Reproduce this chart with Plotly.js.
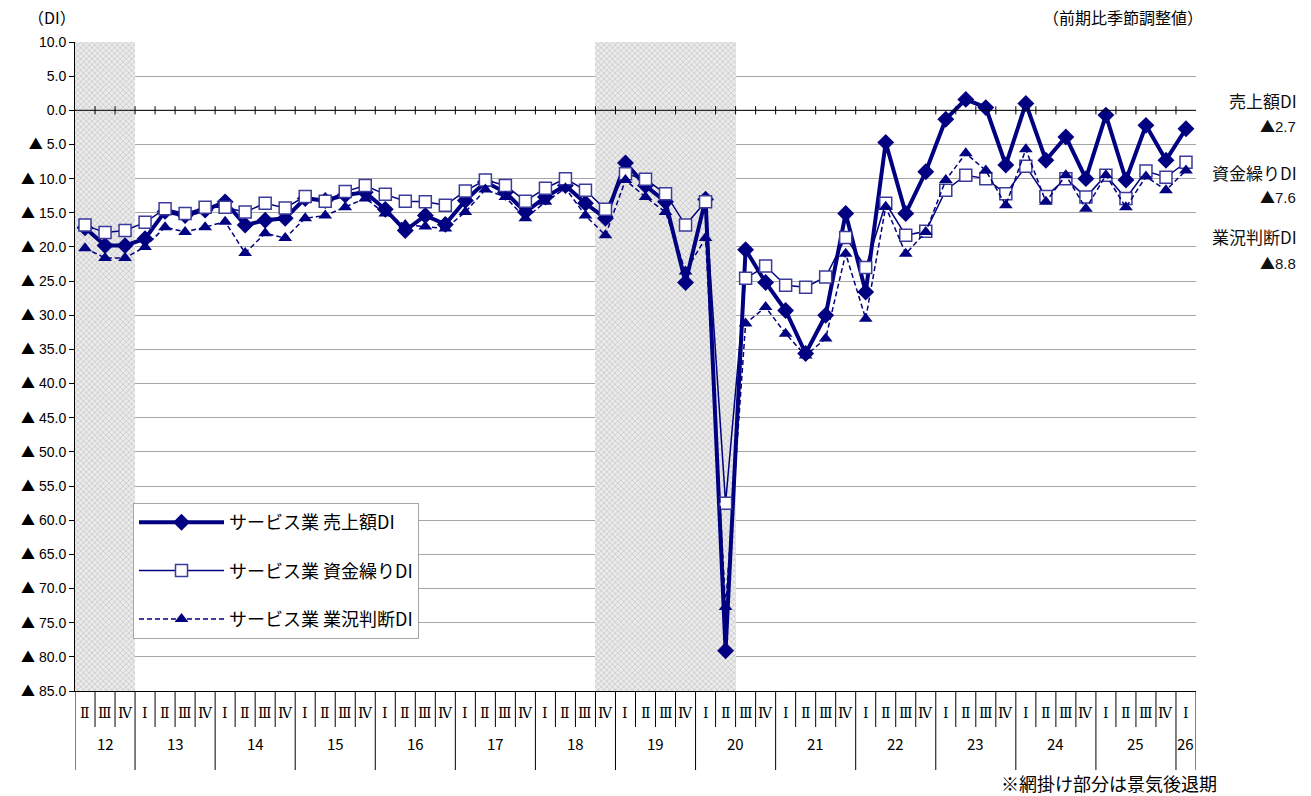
<!DOCTYPE html>
<html>
<head>
<meta charset="utf-8">
<script src="https://cdn.plot.ly/plotly-3.0.1.min.js"></script>
<style>html,body{margin:0;padding:0;background:#fff;}#chart{width:1311px;height:796px;}</style>
</head>
<body>
<div id="chart"></div>
<script>
// ---- data ----
const yearOfPoint = ['12','12','12',
  '13','13','13','13','14','14','14','14','15','15','15','15','16','16','16','16',
  '17','17','17','17','18','18','18','18','19','19','19','19','20','20','20','20',
  '21','21','21','21','22','22','22','22','23','23','23','23','24','24','24','24',
  '25','25','25','25','26'];
const quarterOfPoint = ['Ⅱ','Ⅲ','Ⅳ',
  'Ⅰ','Ⅱ','Ⅲ','Ⅳ','Ⅰ','Ⅱ','Ⅲ','Ⅳ','Ⅰ','Ⅱ','Ⅲ','Ⅳ','Ⅰ','Ⅱ','Ⅲ','Ⅳ',
  'Ⅰ','Ⅱ','Ⅲ','Ⅳ','Ⅰ','Ⅱ','Ⅲ','Ⅳ','Ⅰ','Ⅱ','Ⅲ','Ⅳ','Ⅰ','Ⅱ','Ⅲ','Ⅳ',
  'Ⅰ','Ⅱ','Ⅲ','Ⅳ','Ⅰ','Ⅱ','Ⅲ','Ⅳ','Ⅰ','Ⅱ','Ⅲ','Ⅳ','Ⅰ','Ⅱ','Ⅲ','Ⅳ',
  'Ⅰ','Ⅱ','Ⅲ','Ⅳ','Ⅰ'];

const salesDI = [-17.2,-19.8,-19.8,-18.8,-14.8,-15.4,-14.6,-13.4,-16.8,-16.1,
  -15.8,-12.9,-13.2,-12.4,-12.0,-14.5,-17.6,-15.4,-16.7,-13.2,
  -10.5,-12.0,-14.9,-12.7,-11.0,-13.6,-15.8,-7.7,-11.0,-13.4,
  -25.2,-13.0,-79.1,-20.4,-25.2,-29.3,-35.6,-30.0,-15.1,-26.6,
  -4.7,-15.1,-9.0,-1.3,1.6,0.4,-8.0,1.0,-7.3,-3.9,
  -10.0,-0.7,-10.2,-2.2,-7.3,-2.7];
const cashDI = [-16.8,-17.9,-17.6,-16.4,-14.4,-15.1,-14.2,-14.2,-14.9,-13.6,
  -14.3,-12.6,-13.3,-11.9,-11.0,-12.3,-13.3,-13.4,-13.9,-11.8,
  -10.2,-11.0,-13.3,-11.4,-10.0,-11.7,-14.5,-9.3,-10.1,-12.2,
  -16.8,-13.4,-57.5,-24.6,-22.8,-25.6,-25.9,-24.4,-18.6,-23.0,
  -13.6,-18.3,-17.7,-11.7,-9.5,-10.0,-12.2,-8.2,-12.6,-10.0,
  -12.7,-9.5,-12.9,-8.9,-9.8,-7.6];
const businessDI = [-20.2,-21.6,-21.6,-20.0,-17.1,-17.8,-17.1,-16.3,-20.9,-18.0,
  -18.7,-15.8,-15.4,-14.2,-12.9,-15.1,-16.8,-17.0,-17.3,-14.9,
  -11.6,-12.7,-15.8,-13.4,-11.4,-15.4,-18.3,-10.2,-12.7,-14.9,
  -23.6,-18.7,-72.7,-31.2,-28.8,-32.7,-35.9,-33.4,-21.0,-30.5,
  -14.1,-21.0,-17.8,-10.2,-6.3,-8.8,-13.9,-5.7,-13.4,-9.5,
  -14.4,-9.5,-14.2,-9.7,-11.7,-8.8];

// recession periods (first / last point index, inclusive)
const recessionStart = [0, 26];
const recessionEnd = [2, 32];

const seriesNames = ['サービス業 売上額DI','サービス業 資金繰りDI','サービス業 業況判断DI'];
const latestNames = ['売上額DI','資金繰りDI','業況判断DI'];

const yTickVals = [10,5,0,-5,-10,-15,-20,-25,-30,-35,-40,-45,-50,-55,-60,-65,-70,-75,-80,-85];
const TRI = '<span style="font-family:Noto Sans CJK JP">▲</span>';
const fmt = v => v < 0 ? TRI + ' ' + Math.abs(v).toFixed(1) : v.toFixed(1);
const yTickText = yTickVals.map(fmt);

// ---- geometry helpers ----
const W = 1311, H = 796, ML = 75, MR = 115, MT = 42, MB = 105;
const PW = W - ML - MR, PH = H - MT - MB;
const px2x = p => (p - ML) / PW;
const px2y = p => (H - MB - p) / PH;

const n = salesDI.length;
const xs = salesDI.map((_, i) => i);
const NAVY = '#000080';
const FONT = 'Noto Sans CJK JP, Liberation Sans, sans-serif';
const NUMFONT = 'Liberation Sans, Noto Sans CJK JP, sans-serif';
const ROMAN = 'DejaVu Serif, Liberation Serif, serif';

const traces = [];
// shading (recessions)
traces.push({
  type: 'bar',
  x: recessionStart.map((s, k) => (s + recessionEnd[k]) / 2),
  y: recessionStart.map(() => 95),
  base: recessionStart.map(() => -85),
  width: recessionStart.map((s, k) => recessionEnd[k] - s + 1),
  marker: {color: '#e4e4e4', line: {width: 0},
    pattern: {shape: 'x', fgcolor: '#c0c0c0', bgcolor: '#ebebeb', size: 4, solidity: 0.3}},
  showlegend: false, hoverinfo: 'skip'
});
traces.push({
  type: 'scatter', mode: 'lines+markers', name: seriesNames[0], legendgroup: 'a',
  x: xs, y: salesDI,
  line: {color: NAVY, width: 4},
  marker: {symbol: 'diamond', size: 13, color: NAVY}
});
traces.push({
  type: 'scatter', mode: 'lines+markers', name: seriesNames[1], legendgroup: 'b',
  x: xs, y: cashDI,
  line: {color: NAVY, width: 1.5},
  marker: {symbol: 'square', size: 12, color: '#ffffff', line: {color: '#3b3b9c', width: 1.5}}
});
traces.push({
  type: 'scatter', mode: 'lines+markers', name: seriesNames[2], legendgroup: 'c',
  x: xs, y: businessDI,
  line: {color: NAVY, width: 1.5, dash: '5px,3px'},
  marker: {symbol: 'triangle-up', size: 12, color: NAVY}
});

const shapes = [];
// zero line with crossing ticks
shapes.push({type: 'line', xref: 'x', yref: 'y', x0: -0.5, x1: n - 0.5, y0: 0, y1: 0,
  line: {color: '#000', width: 1}, layer: 'above'});
for (let k = 1; k < n; k++) {
  shapes.push({type: 'line', xref: 'x', yref: 'y', x0: k - 0.5, x1: k - 0.5, y0: -0.6, y1: 0.6,
    line: {color: '#000', width: 1}, layer: 'above'});
}
// category table separators
for (let k = 0; k <= n; k++) {
  const yearEdge = (k === 0 || k === n || yearOfPoint[k] !== yearOfPoint[k - 1]);
  shapes.push({type: 'line', xref: 'x', yref: 'paper', x0: k - 0.5, x1: k - 0.5,
    y0: 0, y1: yearEdge ? px2y(770) : px2y(727), line: {color: '#000', width: 1}});
}

const annotations = [];
for (let i = 0; i < n; i++) {
  annotations.push({xref: 'x', yref: 'paper', x: i, y: px2y(713), text: quarterOfPoint[i],
    showarrow: false, font: {family: ROMAN, size: 14, color: '#000'}, yanchor: 'middle'});
}
// year labels centred on their group
let start = 0;
for (let i = 1; i <= n; i++) {
  if (i === n || yearOfPoint[i] !== yearOfPoint[start]) {
    annotations.push({xref: 'x', yref: 'paper', x: (start + i - 1) / 2, y: px2y(743),
      text: yearOfPoint[start], showarrow: false, yanchor: 'middle',
      font: {family: FONT, size: 15, color: '#000'}});
    start = i;
  }
}
annotations.push({xref: 'paper', yref: 'paper', x: px2x(52), y: px2y(17), text: '（DI）',
  showarrow: false, font: {family: FONT, size: 16, color: '#000'}, xanchor: 'center', yanchor: 'middle'});
annotations.push({xref: 'paper', yref: 'paper', x: px2x(1205), y: px2y(17), text: '（前期比季節調整値）',
  showarrow: false, font: {family: FONT, size: 16, color: '#000'}, xanchor: 'right', yanchor: 'middle'});
annotations.push({xref: 'paper', yref: 'paper', x: px2x(1219), y: px2y(783), text: '※網掛け部分は景気後退期',
  showarrow: false, font: {family: FONT, size: 18, color: '#000'}, xanchor: 'right', yanchor: 'middle'});
// latest values on the right
const latestVals = [salesDI[n - 1], cashDI[n - 1], businessDI[n - 1]];
const nameY = [100, 173, 236], valY = [125, 197, 262];
for (let k = 0; k < 3; k++) {
  annotations.push({xref: 'paper', yref: 'paper', x: px2x(1299), y: px2y(nameY[k]), text: latestNames[k],
    showarrow: false, font: {family: FONT, size: 17, color: '#111'}, xanchor: 'right', yanchor: 'middle'});
  annotations.push({xref: 'paper', yref: 'paper', x: px2x(1298), y: px2y(valY[k]),
    text: TRI + Math.abs(latestVals[k]).toFixed(1),
    showarrow: false, font: {family: NUMFONT, size: 15, color: '#111'}, xanchor: 'right', yanchor: 'middle'});
}

const layout = {
  width: W, height: H,
  margin: {l: ML, r: MR, t: MT, b: MB, pad: 0},
  paper_bgcolor: '#fff', plot_bgcolor: '#fff',
  font: {family: FONT, color: '#000'},
  xaxis: {range: [-0.5, n - 0.5], showgrid: false, zeroline: false, showticklabels: false,
    ticks: '', showline: true, linecolor: '#000', linewidth: 1, fixedrange: true},
  yaxis: {range: [-85, 10], tickvals: yTickVals, ticktext: yTickText, showgrid: true,
    gridcolor: '#a6a6a6', gridwidth: 1, zeroline: false, showline: true, linecolor: '#000',
    linewidth: 1, ticks: 'outside', ticklen: 5, tickcolor: '#000',
    tickfont: {family: NUMFONT, size: 14, color: '#000'}, fixedrange: true},
  showlegend: true,
  legend: {x: px2x(133), y: px2y(503), xanchor: 'left', yanchor: 'top',
    bgcolor: '#fff', bordercolor: '#a6a6a6', borderwidth: 1,
    font: {family: FONT, size: 18, color: '#000'}, tracegroupgap: 22, itemwidth: 85,
    entrywidth: 335},
  shapes: shapes, annotations: annotations, bargap: 0
};

Plotly.newPlot('chart', traces, layout, {displayModeBar: false, staticPlot: true});
</script>
</body>
</html>
